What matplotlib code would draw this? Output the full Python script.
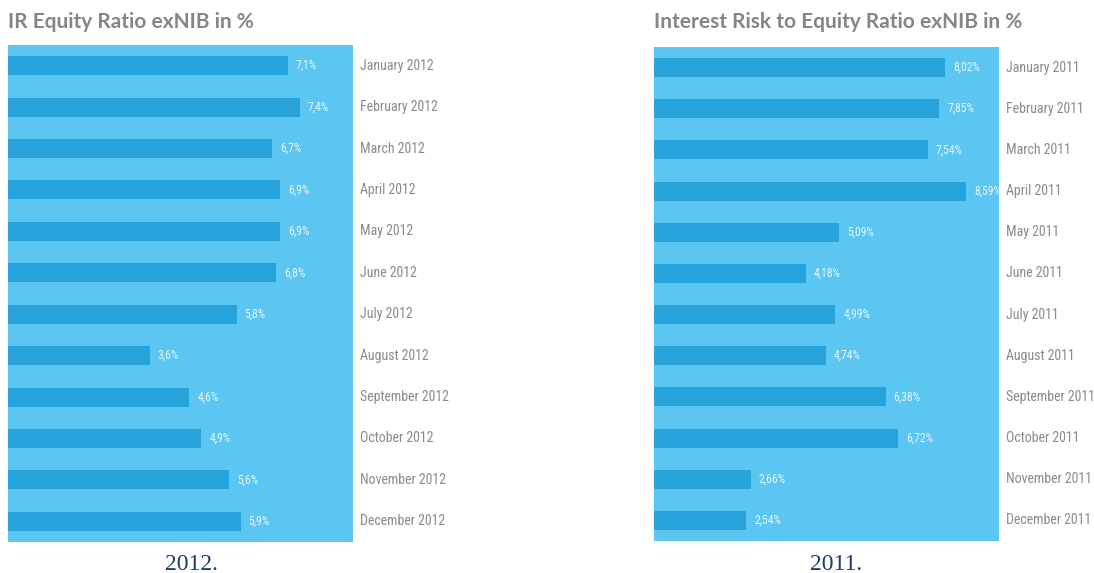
import matplotlib
matplotlib.use("Agg")
import matplotlib.pyplot as plt
from matplotlib.transforms import blended_transform_factory

# data
months = ["January", "February", "March", "April", "May", "June", "July",
          "August", "September", "October", "November", "December"]
vals_2012 = [7.1, 7.4, 6.7, 6.9, 6.9, 6.8, 5.8, 3.6, 4.6, 4.9, 5.6, 5.9]
vals_2011 = [8.02, 7.85, 7.54, 8.59, 5.09, 4.18, 4.99, 4.74, 6.38, 6.72, 2.66, 2.54]
labels_2012 = ["7,1%", "7,4%", "6,7%", "6,9%", "6,9%", "6,8%", "5,8%",
               "3,6%", "4,6%", "4,9%", "5,6%", "5,9%"]
labels_2011 = ["8,02%", "7,85%", "7,54%", "8,59%", "5,09%", "4,18%", "4,99%",
               "4,74%", "6,38%", "6,72%", "2,66%", "2,54%"]

BG = "#5bc6f2"; BAR = "#27a3dc"; GREY = "#8a8a8c"; NAVY = "#1b3a68"
W, H = 1094, 573
NARROW = ["Liberation Sans Narrow", "Roboto Condensed", "Open Sans Condensed", "Roboto"]
plt.rcParams["font.family"] = ["Lato", "DejaVu Sans"]

fig = plt.figure(figsize=(W / 100, H / 100), dpi=100)

def panel(px, py_top, py_bot, vals, labels, year, xmax, title, cap_x):
    ax = fig.add_axes([px / W, 1 - py_bot / H, 345 / W, (py_bot - py_top) / H])
    ax.set_facecolor(BG)
    y = list(range(len(vals)))
    ax.barh(y, vals, height=0.46, color=BAR, left=0)
    ax.set_xlim(0, xmax); ax.set_ylim(len(vals) - 0.5, -0.5)
    for s in ax.spines.values():
        s.set_visible(False)
    ax.set_xticks([]); ax.set_yticks([])
    for i, (v, t) in enumerate(zip(vals, labels)):
        ax.annotate(t, (v, i), xytext=(8, 0), textcoords="offset pixels",
                    va="center", ha="left", fontsize=8.5, color="#e8f6fd", family=NARROW)
    tr = blended_transform_factory(ax.transAxes, ax.transData)
    for i, m in enumerate(months):
        ax.text(1.02, i, f"{m} {year}", transform=tr, va="center", ha="left",
                fontsize=10, color=GREY, family=NARROW)
    fig.text(px / W, 1 - 22 / H, title, ha="left", va="center", fontsize=15,
             fontweight="bold", color="#858587")
    fig.text(cap_x / W, 1 - 564 / H, f"{year}.", ha="center", va="center", fontsize=17,
             color=NAVY, family="Liberation Serif")
    return ax

panel(8, 45, 542, vals_2012, labels_2012, 2012, 8.75, "IR Equity Ratio exNIB in %", 191)
panel(654, 47, 541, vals_2011, labels_2011, 2011, 9.5,
      "Interest Risk to Equity Ratio exNIB in %", 836)

fig.savefig("out.png", dpi=100)
